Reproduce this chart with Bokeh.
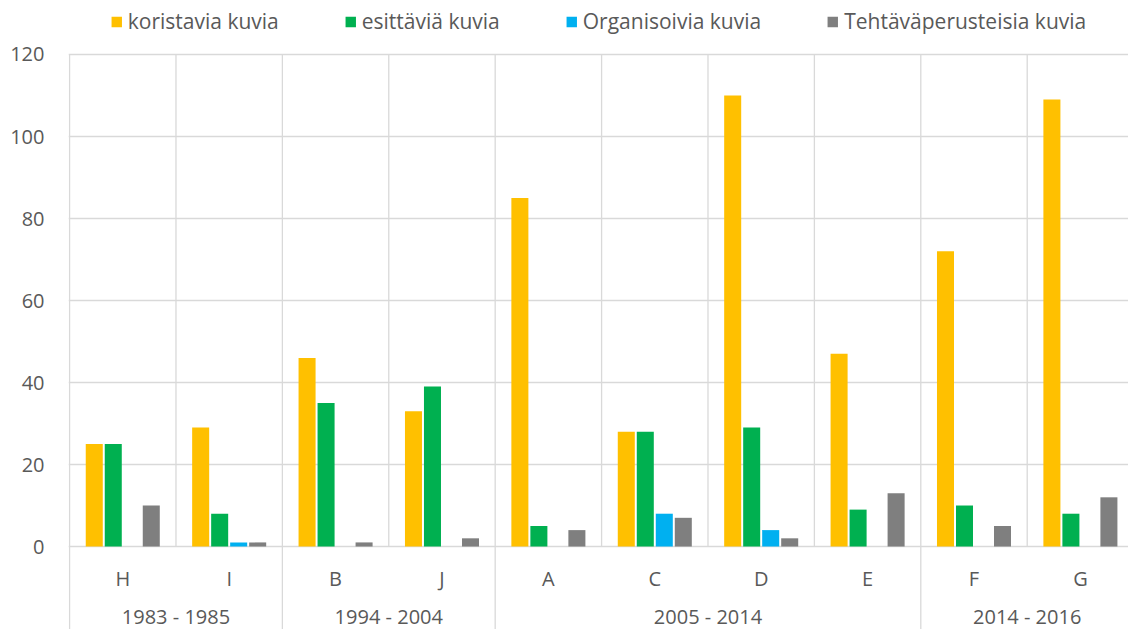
from bokeh.plotting import figure
from bokeh.models import Legend, LegendItem, FixedTicker, ColumnDataSource
from bokeh.core.properties import value
from bokeh.embed import file_html
from bokeh.resources import INLINE

categories = ["H", "I", "B", "J", "A", "C", "D", "E", "F", "G"]
periods = ["1983 - 1985", "1994 - 2004", "2005 - 2014", "2014 - 2016"]
period_sizes = [2, 2, 4, 2]

series_names = ["koristavia kuvia", "esittäviä kuvia", "Organisoivia kuvia", "Tehtäväperusteisia kuvia"]
koristavia = [25, 29, 46, 33, 85, 28, 110, 47, 72, 109]
esittavia = [25, 8, 35, 39, 5, 28, 29, 9, 10, 8]
organisoivia = [0, 1, 0, 0, 0, 8, 4, 0, 0, 0]
tehtava = [10, 1, 1, 2, 4, 7, 2, 13, 5, 12]
colors = ["#FFC000", "#00B050", "#00B0F0", "#7F7F7F"]
y_ticks = [0, 20, 40, 60, 80, 100, 120]

FONT = "Open Sans"
TXT = "#595959"
GRID = "#D9D9D9"
FS = "20px"

n = len(categories)
y_bottom = -20.24
y_top = 133.17
p = figure(width=1128, height=629, output_backend="svg", toolbar_location=None,
           x_range=(-0.01, 9.952), y_range=(y_bottom, y_top),
           x_axis_location=None, min_border_left=68, min_border_right=0,
           min_border_bottom=0, min_border_top=0)
p.outline_line_color = None
p.xgrid.visible = False
p.ygrid.ticker = FixedTicker(ticks=y_ticks)
p.ygrid.grid_line_color = GRID
p.ygrid.grid_line_width = 1.3

ya = p.yaxis[0]
ya.ticker = FixedTicker(ticks=y_ticks)
ya.axis_line_color = None
ya.major_tick_line_color = None
ya.minor_tick_line_color = None
ya.major_tick_in = 0
ya.major_tick_out = 0
ya.major_label_standoff = 24
ya.major_label_text_font = FONT
ya.major_label_text_font_size = FS
ya.major_label_text_color = TXT

# vertical separators
bx = list(range(n + 1))
p.segment(x0=bx, x1=bx, y0=[0] * len(bx), y1=[y_ticks[-1]] * len(bx), line_color=GRID, line_width=1.3)
gb = [0]
for s in period_sizes:
    gb.append(gb[-1] + s)
p.segment(x0=gb, x1=gb, y0=[y_bottom] * len(gb), y1=[0] * len(gb), line_color=GRID, line_width=1.3)

# bars
step = 0.1786
bw = 0.16
all_series = [koristavia, esittavia, organisoivia, tehtava]
renderers = []
for k, vals in enumerate(all_series):
    xs = [i + 0.5 + (k - 1.5) * step for i in range(n)]
    src = ColumnDataSource(dict(x=xs, top=vals))
    r = p.vbar(x="x", top="top", bottom=0, width=bw, source=src,
               fill_color=colors[k], line_color=None)
    renderers.append(r)

# category labels
p.text(x=[i + 0.5 for i in range(n)], y=[-7.8] * n, text=categories,
       text_font=value(FONT), text_font_size=FS, text_color=TXT,
       text_align="center", text_baseline="middle")
pc = [(gb[j] + gb[j + 1]) / 2 for j in range(len(periods))]
p.text(x=pc, y=[-17.0] * len(periods), text=periods,
       text_font=value(FONT), text_font_size=FS, text_color=TXT,
       text_align="center", text_baseline="middle")

legend = Legend(items=[LegendItem(label=series_names[k], renderers=[renderers[k]]) for k in range(4)],
                orientation="horizontal", location="top_center")
legend.label_text_font = FONT
legend.label_text_font_size = "21px"
legend.label_text_color = TXT
legend.glyph_width = 13
legend.glyph_height = 13
legend.label_standoff = 5
legend.spacing = 65
legend.padding = 1
legend.margin = 7
legend.border_line_color = None
legend.background_fill_alpha = 0
p.add_layout(legend)

open("out.html", "w").write(file_html(p, INLINE))
